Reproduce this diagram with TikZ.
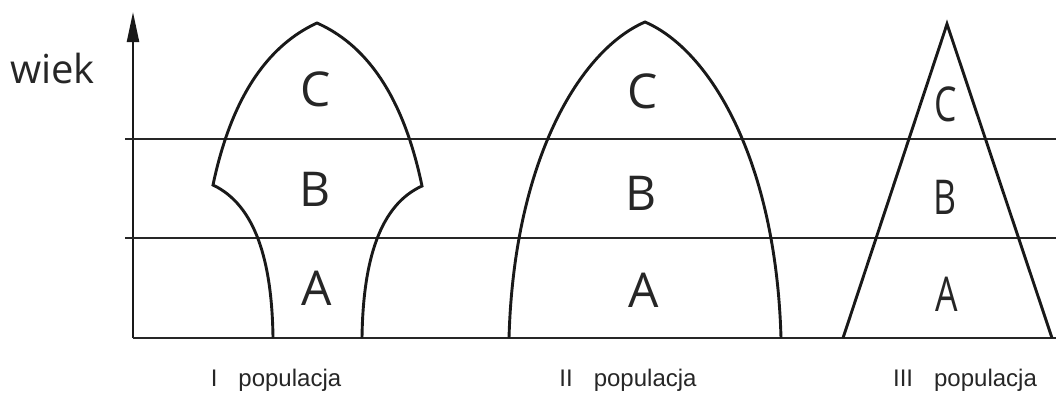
\documentclass[tikz,border=0pt]{standalone}
\usepackage{fontspec}
\setmainfont{Open Sans}
\newfontfamily\poplabelfont{Liberation Sans}
\newfontfamily\narrowfont[FakeStretch=0.74]{Open Sans}
\usetikzlibrary{arrows.meta}

\begin{document}
\begin{tikzpicture}[x=1pt, y=-1pt,
  level/.style={line width=2.1pt, draw=black!85},
  outline/.style={line width=2.9pt, draw=black!90, line join=miter},
  axis/.style={line width=2.3pt, draw=black!90, -{Triangle[length=30pt, width=12pt]}},
  agegroup/.style={anchor=base, inner sep=0pt, text=black!85,
                   font=\fontsize{48}{48}\selectfont},
  agegroupnarrow/.style={anchor=base, inner sep=0pt, text=black!85,
                         font=\narrowfont\fontsize{48}{48}\selectfont},
  poplabel/.style={anchor=base, inner sep=0pt, text=black!85,
                   font=\poplabelfont\fontsize{24}{24}\selectfont}
]
  \useasboundingbox (0,0) rectangle (1056,392);

  % axes and age levels
  \coordinate (origin) at (133,338);
  \coordinate (top) at (133,12);
  \draw[axis] (origin) -- (top);
  \draw[level] (origin) -- (1056,338);
  \draw[level] (125,139) -- (1056,139);
  \draw[level] (125,238) -- (1056,238);
  \node[anchor=base west, inner sep=0pt, text=black!85,
        font=\fontsize{40}{40}\selectfont] (wiek) at (10,83) {wiek};

  % population I
  \draw[outline] (273,338) .. controls (272,260) and (255,205) .. (213,185)
    .. controls (235,80) and (280,40) .. (317,23)
    .. controls (355,40) and (400,80) .. (422,186)
    .. controls (380,205) and (363,260) .. (362,338);
  \node[agegroup] (c1) at (316,106) {C};
  \node[agegroup] (b1) at (315,206) {B};
  \node[agegroup] (a1) at (317,305) {A};

  % population II
  \draw[outline] (509,338) .. controls (514,160) and (580,50) .. (645,22)
    .. controls (710,50) and (776,160) .. (781,338);
  \node[agegroup] (c2) at (643,108) {C};
  \node[agegroup] (b2) at (641,210) {B};
  \node[agegroup] (a2) at (644,307) {A};

  % population III
  \draw[outline] (843,338) -- (947,24) -- (1052,338);
  \node[agegroupnarrow] (c3) at (946,121) {C};
  \node[agegroupnarrow] (b3) at (945,214) {B};
  \node[agegroupnarrow] (a3) at (947,311) {A};

  \node[poplabel] (pop1) at (276,386) {I\hspace{21pt}populacja};
  \node[poplabel] (pop2) at (628,386) {II\hspace{21pt}populacja};
  \node[poplabel] (pop3) at (965,386) {III\hspace{21pt}populacja};
\end{tikzpicture}
\end{document}
